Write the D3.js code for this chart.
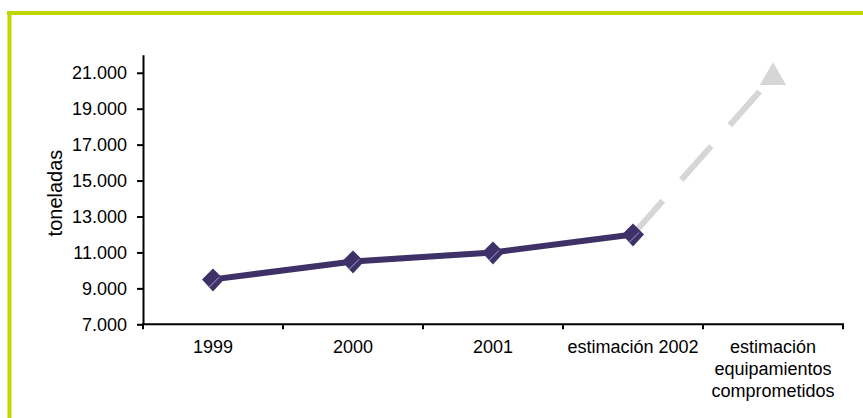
<!DOCTYPE html>
<meta charset="utf-8">
<style>
  body { margin: 0; background: #fff; }
  text { font-family: "Liberation Sans", Arial, sans-serif; fill: #000; }
  .axis path, .axis line { stroke: #000; stroke-width: 2px; }
  .axis text { font-size: 18px; }
</style>
<body>
<script src="https://d3js.org/d3.v7.min.js"></script>
<script>

  // data
  var categories = ["1999", "2000", "2001", "estimación 2002", "estimación equipamientos comprometidos"];
  var categoryLines = [["1999"], ["2000"], ["2001"], ["estimación 2002"], ["estimación", "equipamientos", "comprometidos"]];
  var actualValues = [9500, 10500, 11000, 12000];          // 1999 .. estimación 2002
  var projectionValues = [12000, 20800];                    // estimación 2002 -> equipamientos comprometidos
  var yTicks = [7000, 9000, 11000, 13000, 15000, 17000, 19000, 21000];
  var yLabel = "toneladas";

  var W = 863, H = 418;

  var svg = d3.select("body").append("svg")
    .attr("width", W)
    .attr("height", H);

  // green frame (top and left only)
  svg.append("line").attr("x1", 7).attr("x2", W).attr("y1", 13).attr("y2", 13)
    .attr("stroke", "#bfd600").attr("stroke-width", 4);
  svg.append("line").attr("x1", 9.5).attr("x2", 9.5).attr("y1", 11).attr("y2", H)
    .attr("stroke", "#bfd600").attr("stroke-width", 4);

  // scales
  var x = d3.scaleBand().domain(categories).range([143, 843]).padding(0);
  var y = d3.scaleLinear().domain([7000, 22000]).range([324.3, 54.8]);
  var cx = function (c) { return x(c) + x.bandwidth() / 2; };

  var locale = d3.formatLocale({ decimal: ",", thousands: ".", grouping: [3], currency: ["", ""] });
  var fmt = locale.format(",.0f");

  // y axis
  var gy = svg.append("g").attr("class", "axis")
    .attr("transform", "translate(143,0)")
    .call(d3.axisLeft(y).tickValues(yTicks).tickFormat(fmt).tickSize(6).tickSizeOuter(0).tickPadding(10));

  // x axis: line plus ticks on band edges
  var gx = svg.append("g").attr("class", "axis")
    .attr("transform", "translate(0," + y(7000) + ")");
  gx.append("line").attr("x1", 142).attr("x2", 844).attr("y1", 0).attr("y2", 0);
  var edges = categories.map(function (c) { return x(c); }).concat([x.range()[1]]);
  gx.selectAll(".edge").data(edges).enter().append("line")
    .attr("class", "edge")
    .attr("x1", function (d) { return d; }).attr("x2", function (d) { return d; })
    .attr("y1", 0).attr("y2", 5);
  gx.selectAll(".lbl").data(categories).enter().append("text")
    .attr("class", "lbl")
    .attr("text-anchor", "middle")
    .attr("x", function (d) { return cx(d); })
    .attr("y", 29)
    .each(function (d, i) {
      var t = d3.select(this);
      categoryLines[i].forEach(function (s, j) {
        t.append("tspan").attr("x", cx(d)).attr("y", 29 + j * 22).text(s);
      });
    });

  // y label
  svg.append("text")
    .attr("transform", "translate(62," + 193 + ") rotate(-90)")
    .attr("text-anchor", "middle")
    .attr("font-size", "20px")
    .text(yLabel);

  // projection (dashed grey)
  var projCats = categories.slice(3);
  var proj = projCats.map(function (c, i) { return [cx(c), y(projectionValues[i])]; });
  svg.append("path")
    .attr("d", d3.line()(proj))
    .attr("fill", "none")
    .attr("stroke", "#d6d6d6")
    .attr("stroke-width", 6)
    .attr("stroke-dasharray", "45,28");
  svg.append("path")
    .attr("d", d3.symbol().type(d3.symbolTriangle).size(300)())
    .attr("transform", "translate(" + proj[1][0] + "," + (proj[1][1] + 1) + ")")
    .attr("fill", "#d6d6d6");

  // actual series
  var pts = actualValues.map(function (v, i) { return [cx(categories[i]), y(v)]; });
  svg.append("path")
    .attr("d", d3.line()(pts))
    .attr("fill", "none")
    .attr("stroke", "#3d3167")
    .attr("stroke-width", 6);

  var m = svg.selectAll(".mk").data(pts).enter().append("g")
    .attr("class", "mk")
    .attr("transform", function (d) { return "translate(" + d[0] + "," + d[1] + ")"; });
  m.append("path")
    .attr("d", "M0,-11L11,0L0,12L-11,0Z")
    .attr("fill", "#3d3167");
  m.append("line")
    .attr("x1", -4).attr("y1", 8).attr("x2", 6).attr("y2", -2)
    .attr("stroke", "#a89cd6").attr("stroke-width", 1);

</script>
</body>
